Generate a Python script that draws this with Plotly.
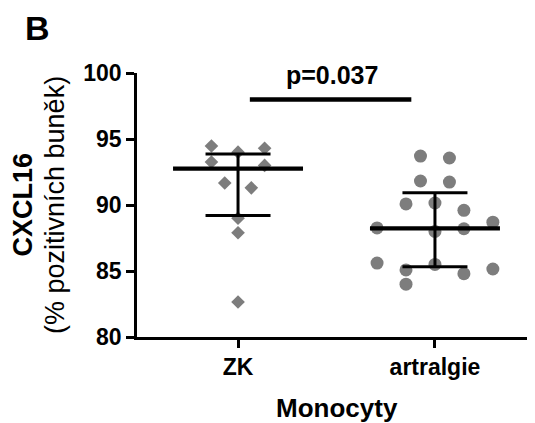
import plotly.graph_objects as go

categories = ["ZK", "artralgie"]

zk_values = [94.47, 94.0, 94.3, 93.26, 93.0, 91.67, 91.3, 89.0, 87.9, 82.65]
zk_slots = [-2, 0, 2, -2, 2, -1, 1, 0, 0, 0]

art_values = [93.71, 93.56, 91.82, 91.74, 90.08, 90.15, 89.6, 88.26, 88.0, 88.2,
              88.7, 85.6, 85.08, 85.5, 84.8, 85.15, 84.0]
art_slots = [-1, 1, -1, 1, -2, 0, 2, -4, 0, 2, 4, -4, -2, 0, 2, 4, -2]

medians = [92.75, 88.23]
q1 = [89.2, 85.33]
q3 = [93.86, 90.93]

p_text = "p=0.037"
p_bar_y = 98.0

y_ticks = [80, 85, 90, 95, 100]

FONT = "Liberation Sans, Arial, sans-serif"
GRAY = "#7d7d7d"

# page body has an 8px margin; figure sized to fit the 535x423 window
OFF = 8
W, H = 535 - OFF, 423 - OFF
L, R, T, B = 137 - OFF, 0, 73 - OFF, 423 - 337


def px_x(px):
    return (px - OFF - L) / (W - L - R)


def px_y(py):
    return (H - B - (py - OFF)) / (H - T - B)


fig = go.Figure()

# points
fig.add_trace(go.Scatter(
    x=[0 + s * 0.0675 for s in zk_slots], y=zk_values, mode="markers",
    marker=dict(symbol="diamond", size=10.5, color=GRAY, line=dict(width=0)),
    showlegend=False, cliponaxis=False))
fig.add_trace(go.Scatter(
    x=[1 + s * 0.0735 for s in art_slots], y=art_values, mode="markers",
    marker=dict(symbol="circle", size=13, color=GRAY, line=dict(width=0)),
    showlegend=False, cliponaxis=False))

# median + IQR
for i in range(len(categories)):
    c = i
    fig.add_trace(go.Scatter(x=[c - 0.33, c + 0.33], y=[medians[i], medians[i]], mode="lines",
                             line=dict(color="black", width=4.3), showlegend=False, cliponaxis=False))
    fig.add_trace(go.Scatter(x=[c, c], y=[q1[i], q3[i]], mode="lines",
                             line=dict(color="black", width=3), showlegend=False))
    for q in (q1[i], q3[i]):
        fig.add_trace(go.Scatter(x=[c - 0.165, c + 0.165], y=[q, q], mode="lines",
                                 line=dict(color="black", width=3), showlegend=False))

# significance bar
fig.add_trace(go.Scatter(x=[0.06, 0.88], y=[p_bar_y, p_bar_y], mode="lines",
                         line=dict(color="black", width=4.5), showlegend=False, cliponaxis=False))
fig.add_annotation(x=0.477, y=99.85, xref="x", yref="y", text="<b>%s</b>" % p_text,
                   showarrow=False, font=dict(family=FONT, size=25, color="black"),
                   xanchor="center", yanchor="middle")

# panel letter
fig.add_annotation(x=px_x(37), y=px_y(8), xref="paper", yref="paper", text="<b>B</b>",
                   showarrow=False, font=dict(family=FONT, size=34, color="black"),
                   xanchor="center", yanchor="top", borderpad=0)

# y title
fig.add_annotation(x=px_x(22.5), y=px_y(205), xref="paper", yref="paper",
                   text="<b>CXCL16</b>", textangle=-90, showarrow=False,
                   font=dict(family=FONT, size=27, color="black"),
                   xanchor="center", yanchor="middle")
fig.add_annotation(x=px_x(55), y=px_y(205), xref="paper", yref="paper",
                   text="(% pozitivních buněk)", textangle=-90, showarrow=False,
                   font=dict(family=FONT, size=27, color="black"),
                   xanchor="center", yanchor="middle")
# x title
fig.add_annotation(x=px_x(337), y=px_y(408), xref="paper", yref="paper",
                   text="<b>Monocyty</b>", showarrow=False,
                   font=dict(family=FONT, size=26, color="black"),
                   xanchor="center", yanchor="middle")

fig.update_layout(
    width=W, height=H,
    margin=dict(l=L, r=R, t=T, b=B, pad=0),
    paper_bgcolor="white", plot_bgcolor="white",
    font=dict(family=FONT, color="black"),
    xaxis=dict(range=[-0.513, 1.508], tickvals=[0, 1], ticktext=["<b>%s</b>" % c for c in categories],
               showline=True, linecolor="black", linewidth=2.5, ticks="outside", ticklen=8,
               tickwidth=2.5, tickcolor="black", showgrid=False, zeroline=False,
               tickfont=dict(family=FONT, size=23, color="black")),
    yaxis=dict(range=[80, 100], tickvals=y_ticks, ticktext=["<b>%d</b>" % v for v in y_ticks],
               showline=True, linecolor="black", linewidth=2.5, ticks="outside", ticklen=8,
               tickwidth=2.5, tickcolor="black", showgrid=False, zeroline=False,
               tickfont=dict(family=FONT, size=23, color="black")),
)

fig.write_html("out.html")
